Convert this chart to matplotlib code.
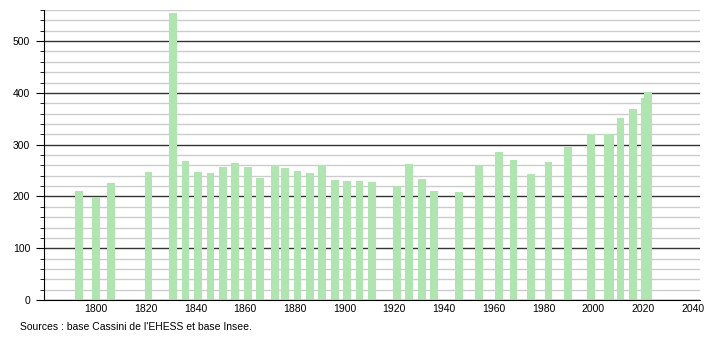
import matplotlib.pyplot as plt
from matplotlib.ticker import MultipleLocator

plt.rcParams['font.family'] = ['Liberation Sans', 'DejaVu Sans']

# census years and population
years = [1793, 1800, 1806, 1821, 1831, 1836, 1841, 1846, 1851, 1856,
         1861, 1866, 1872, 1876, 1881, 1886, 1891, 1896, 1901, 1906,
         1911, 1921, 1926, 1931, 1936, 1946, 1954, 1962, 1968, 1975,
         1982, 1990, 1999, 2006, 2007, 2011, 2016, 2021, 2022]
population = [210, 199, 225, 248, 555, 268, 248, 246, 256, 264,
              256, 235, 260, 254, 250, 245, 260, 231, 229, 229,
              227, 221, 262, 233, 210, 208, 260, 285, 270, 243,
              266, 295, 320, 320, 320, 351, 369, 390, 401]

x_ticks = list(range(1800, 2041, 20))
source_text = "Sources : base Cassini de l'EHESS et base Insee."


def main():
    fig = plt.figure(figsize=(7.1, 3.4), dpi=100)
    ax = fig.add_axes([44 / 710, 40 / 340, 656 / 710, 290 / 340])

    #grid lines
    ax.yaxis.set_major_locator(MultipleLocator(100))
    ax.yaxis.set_minor_locator(MultipleLocator(20))
    ax.grid(which='minor', axis='y', color='#cccccc', linewidth=1)
    ax.grid(which='major', axis='y', color='#333333', linewidth=1)
    ax.set_axisbelow(True)

    #bars
    ax.bar(years, population, width=3.1, color='#b0e4b0', zorder=2)

    ax.set_xlim(1779, 2043)
    ax.set_ylim(0, 560)
    ax.set_xticks(x_ticks)

    for side in ['top', 'right']:
        ax.spines[side].set_visible(False)
    ax.spines['left'].set_color('black')
    ax.spines['bottom'].set_color('black')

    ax.tick_params(axis='x', length=0, labelsize=7.5, pad=3)
    ax.tick_params(axis='y', which='major', length=6, labelsize=7.5, pad=4)
    ax.tick_params(axis='y', which='minor', length=3)

    fig.text(20 / 710, 1 - 327 / 340, source_text, fontsize=7.5, va='center')

    fig.savefig('out.png', dpi=100)


if __name__ == "__main__":
    main()
